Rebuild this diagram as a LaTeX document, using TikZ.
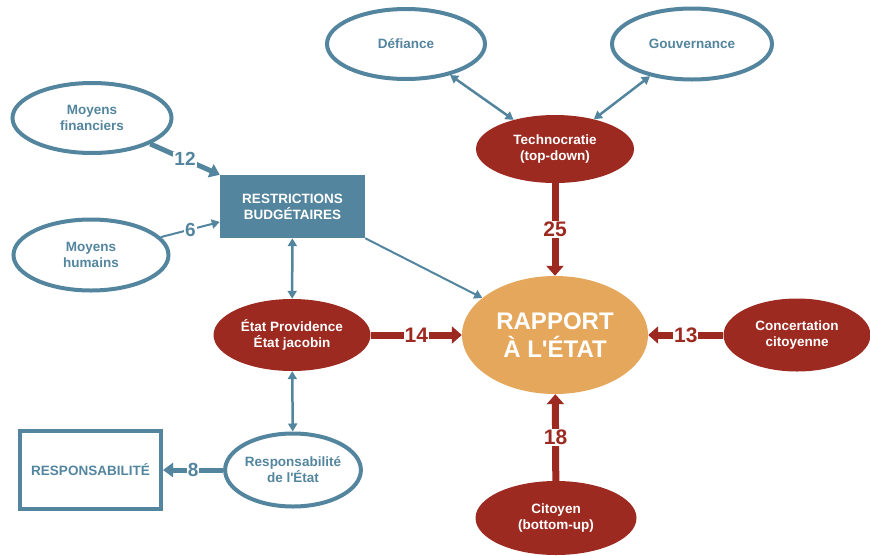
\documentclass[tikz,border=0pt]{standalone}
\usepackage{fontspec}
\setmainfont{Liberation Sans}
\usetikzlibrary{shapes.geometric,arrows.meta}
\definecolor{acier}{RGB}{83,133,158}
\definecolor{brique}{RGB}{157,42,32}
\definecolor{ocre}{RGB}{229,167,92}

\begin{document}
\begin{tikzpicture}[x=1pt, y=-1pt, font=\bfseries\fontsize{13.5}{16}\selectfont,
  bulle/.style={ellipse, draw=acier, line width=4pt, fill=white, text=acier, align=center, inner sep=0pt},
  facteur/.style={ellipse, fill=brique, text=white, align=center, inner sep=0pt},
  bilat/.style={{Triangle[width=9pt,length=8pt]}-{Triangle[width=9pt,length=8pt]}, draw=acier, line width=2.5pt},
  fleche/.style={-{Triangle[width=9pt,length=8pt]}, draw=acier, line width=2pt},
  flechegr/.style={-{Triangle[width=14pt,length=10pt]}, draw=acier, line width=5pt},
  flecherouge/.style={-{Triangle[width=17pt,length=10pt]}, draw=brique, line width=7pt},
  poids/.style={fill=white, inner sep=1pt, text=acier, font=\bfseries\fontsize{19}{19}\selectfont},
  poidsr/.style={fill=white, inner sep=1pt, text=brique, font=\bfseries\fontsize{21}{21}\selectfont}]
  \useasboundingbox (0,0) rectangle (870,555);

  % facteurs bleus
  \node[bulle, minimum width=159pt, minimum height=70pt] (fin) at (92,118) {Moyens\\financiers};
  \node[bulle, minimum width=155pt, minimum height=71pt] (hum) at (91,255) {Moyens\\humains};
  \node[bulle, minimum width=158pt, minimum height=70pt] (def) at (406,44) {Défiance};
  \node[bulle, minimum width=160pt, minimum height=71pt] (gouv) at (692,44) {Gouvernance};
  \node[bulle, minimum width=131pt, minimum height=73pt] (resp) at (293,470) {Responsabilité\\de l\textquotesingle État};
  \node[rectangle, fill=acier, text=white, align=center, minimum width=145pt, minimum height=63pt] (budget) at (292.5,206.5) {RESTRICTIONS\\BUDGÉTAIRES};
  \node[rectangle, draw=acier, line width=4pt, fill=white, text=acier, minimum width=141pt, minimum height=78pt] (respbox) at (90.5,470) {RESPONSABILITÉ};

  % facteurs rouges
  \node[facteur, minimum width=158pt, minimum height=68pt] (tech) at (555,149) {Technocratie\\(top-down)};
  \node[facteur, minimum width=157pt, minimum height=72pt] (etat) at (292,335) {État Providence\\État jacobin};
  \node[facteur, minimum width=147pt, minimum height=73pt] (conc) at (797,335) {Concertation\\citoyenne};
  \node[facteur, minimum width=161pt, minimum height=74pt] (cit) at (556,518) {Citoyen\\(bottom-up)};

  % centre
  \node[ellipse, fill=ocre, text=white, align=center, inner sep=0pt, minimum width=186pt, minimum height=118pt,
    font=\bfseries\fontsize{24}{28}\selectfont] (rap) at (555,335) {RAPPORT\\À L\textquotesingle ÉTAT};

  \draw[bilat] (def) -- (tech);
  \draw[bilat] (gouv) -- (tech);
  \draw[bilat] (budget) -- (etat);
  \draw[bilat] (etat) -- (resp);
  \draw[flechegr] (fin) -- (budget.north west) node[poids, midway] {12};
  \draw[fleche] (hum) -- (budget.192) node[poids, midway] {6};
  \draw[flechegr] (resp.west) -- (respbox.east) node[poids, midway] {8};
  \draw[fleche] (budget.south east) -- (rap);

  \draw[flecherouge] (tech) -- (rap) node[poidsr, midway] {25};
  \draw[flecherouge] (etat) -- (rap) node[poidsr, midway] {14};
  \draw[flecherouge] (conc) -- (rap) node[poidsr, midway] {13};
  \draw[flecherouge] (cit) -- (rap) node[poidsr, midway] {18};
\end{tikzpicture}
\end{document}
